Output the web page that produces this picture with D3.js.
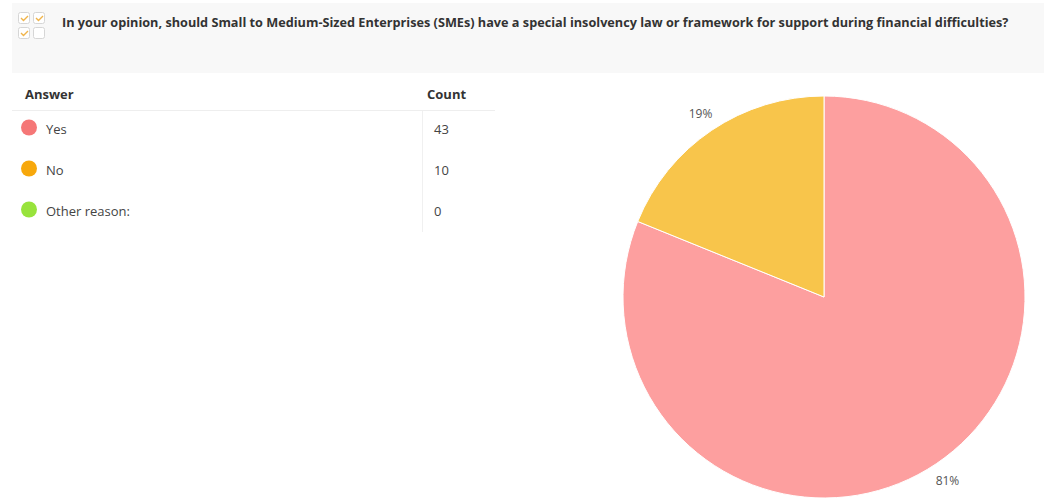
<!DOCTYPE html>
<html>
<head>
<meta charset="utf-8">
<script src="https://cdn.jsdelivr.net/npm/d3@7"></script>
<style>
  body { margin: 0; background: #fff; }
  text { font-family: "Open Sans", "Noto Sans", sans-serif; }
</style>
</head>
<body>
<div id="chart-area"></div>
<script>
var width = 1049, height = 500;

var question = "In your opinion, should Small to Medium-Sized Enterprises (SMEs) have a special insolvency law or framework for support during financial difficulties?";
var answers = ["Yes", "No", "Other reason:"];
var counts = [43, 10, 0];
var dotColors = ["#f57777", "#f7a80c", "#98e33c"];
var sliceColors = ["#fd9f9f", "#f8c54b", "#b8ef7a"];

var svg = d3.select("#chart-area")
  .append("svg")
    .attr("width", width)
    .attr("height", height);

// header box
svg.append("rect")
  .attr("x", 12).attr("y", 3)
  .attr("width", 1032).attr("height", 70)
  .attr("fill", "#f8f8f8");

// little checkbox icon
var boxes = [[18, 12, true], [33, 12, true], [18, 27, true], [33, 27, false]];
boxes.forEach(function(b) {
  svg.append("rect")
    .attr("x", b[0] + 0.5).attr("y", b[1] + 0.5)
    .attr("width", 11).attr("height", 11).attr("rx", 2)
    .attr("fill", "#fff")
    .attr("stroke", "#d6d6d6");
  if (b[2]) {
    svg.append("path")
      .attr("d", "M" + (b[0] + 3) + "," + (b[1] + 6) + " l2.5,2.5 l4.5,-4.5")
      .attr("fill", "none")
      .attr("stroke", "#f0b44a")
      .attr("stroke-width", 1.4);
  }
});

var title = svg.append("text")
  .attr("x", 62).attr("y", 27)
  .attr("font-size", "13px")
  .attr("font-weight", "bold")
  .attr("fill", "#333")
  .text(question);
// fit title to the width seen in the reference
var tl = title.node().getComputedTextLength();
title.attr("font-size", (13 * 948 / tl) + "px");

// table
var tableG = svg.append("g");
tableG.append("text")
  .attr("x", 25).attr("y", 99)
  .attr("font-size", "13px").attr("font-weight", "bold").attr("fill", "#333")
  .text("Answer");
tableG.append("text")
  .attr("x", 427).attr("y", 99)
  .attr("font-size", "13px").attr("font-weight", "bold").attr("fill", "#333")
  .text("Count");
tableG.append("line")
  .attr("x1", 12).attr("x2", 495)
  .attr("y1", 110.5).attr("y2", 110.5)
  .attr("stroke", "#eeeeee");
tableG.append("line")
  .attr("x1", 422.5).attr("x2", 422.5)
  .attr("y1", 111).attr("y2", 232)
  .attr("stroke", "#f0f0f0");

var rowY = d3.scaleBand()
  .domain(answers)
  .range([108, 231]);

var rows = tableG.selectAll("g.row")
  .data(answers)
  .enter()
  .append("g")
    .attr("class", "row")
    .attr("transform", function(d) { return "translate(0," + (rowY(d) + rowY.bandwidth() / 2) + ")"; });

rows.append("circle")
  .attr("cx", 29).attr("cy", -1)
  .attr("r", 8)
  .attr("fill", function(d, i) { return dotColors[i]; });
rows.append("text")
  .attr("x", 46).attr("y", 5)
  .attr("font-size", "13px").attr("fill", "#444")
  .text(function(d) { return d; });
rows.append("text")
  .attr("x", 434).attr("y", 5)
  .attr("font-size", "13px").attr("fill", "#444")
  .text(function(d, i) { return counts[i]; });

// pie
var cx = 824, cy = 297, radius = 201;
var total = d3.sum(counts);
var pie = d3.pie().sort(null).value(function(d) { return d; });
var arc = d3.arc().innerRadius(0).outerRadius(radius);
var labelArc = d3.arc().innerRadius(radius + 20).outerRadius(radius + 20);

var pieG = svg.append("g")
  .attr("transform", "translate(" + cx + "," + cy + ")");

var arcs = pie(counts).filter(function(d) { return d.value > 0; });

pieG.selectAll("path")
  .data(arcs)
  .enter()
  .append("path")
    .attr("d", arc)
    .attr("fill", function(d) { return sliceColors[d.index]; })
    .attr("stroke", "#fff")
    .attr("stroke-width", 1);

pieG.selectAll("text")
  .data(arcs)
  .enter()
  .append("text")
    .attr("transform", function(d) { return "translate(" + labelArc.centroid(d) + ")"; })
    .attr("dy", "0.35em")
    .attr("text-anchor", "middle")
    .attr("font-family", "Arial, 'Liberation Sans', sans-serif")
    .attr("font-size", "12px")
    .attr("fill", "#555")
    .text(function(d) { return Math.round(d.value / total * 100) + "%"; });
</script>
</body>
</html>
